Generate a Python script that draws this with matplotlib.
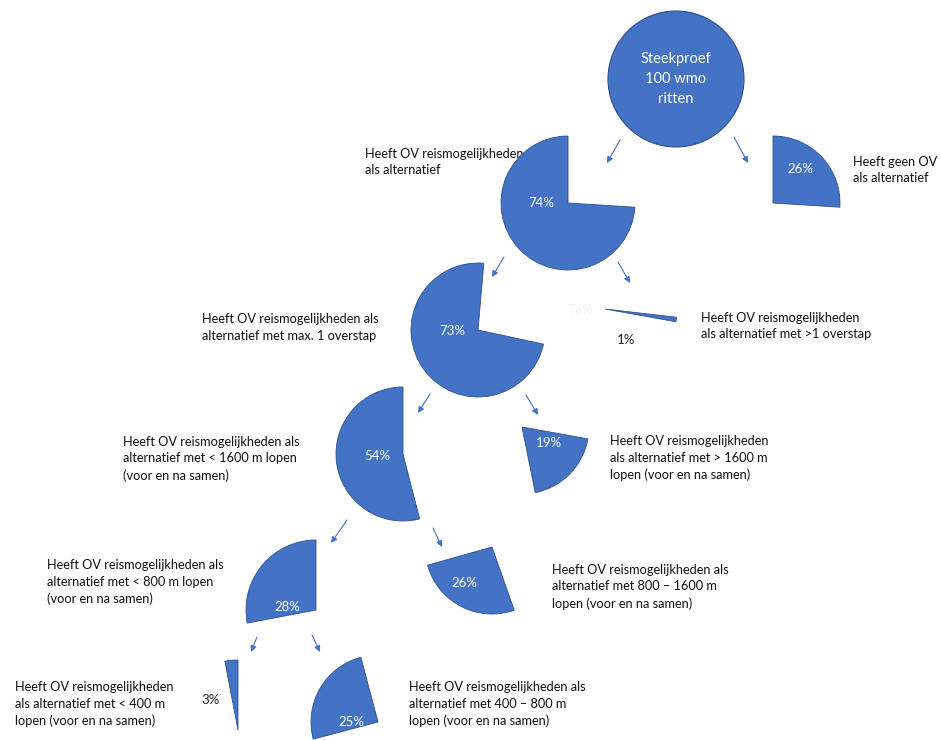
import matplotlib.pyplot as plt
from matplotlib.patches import Wedge, Circle

plt.rcParams['font.family'] = ['Lato', 'DejaVu Sans']

# data: each level splits the parent share into a left and a right branch
parent_pct = [100, 74, 73, 54, 28]
left_pct = [74, 73, 54, 28, 3]
right_pct = [26, 1, 19, 26, 25]
root_text = "Steekproef\n100 wmo\nritten"
left_text = [
    "Heeft OV reismogelijkheden\nals alternatief",
    "Heeft OV reismogelijkheden als\nalternatief met max. 1 overstap",
    "Heeft OV reismogelijkheden als\nalternatief met < 1600 m lopen\n(voor en na samen)",
    "Heeft OV reismogelijkheden als\nalternatief met < 800 m lopen\n(voor en na samen)",
    "Heeft OV reismogelijkheden\nals alternatief met < 400 m\nlopen (voor en na samen)",
]
right_text = [
    "Heeft geen OV reismogelijkheden\nals alternatief",
    "Heeft OV reismogelijkheden\nals alternatief met >1 overstap",
    "Heeft OV reismogelijkheden\nals alternatief met > 1600 m\nlopen (voor en na samen)",
    "Heeft OV reismogelijkheden als\nalternatief met 800 \u2013 1600 m\nlopen (voor en na samen)",
    "Heeft OV reismogelijkheden als\nalternatief met 400 \u2013 800 m\nlopen (voor en na samen)",
]

# layout (pixels, y downwards)
root_xy = (676, 79)
left_xy = [(568, 203), (478, 330), (403, 454), (316, 610), (238, 730)]
right_xy = [(773, 203), (605, 309), (522, 427), (492, 547), (378, 722)]
left_r = [67, 67, 67, 70, 70]
right_r = [67, 72, 67, 67, 67]
left_tilt = [0, 5, 0, 0, 0]
right_tilt = [0, 3, 3, -5, -4]
left_lab = [(541, 203), (452, 331), (377, 456), (287, 607), (211, 700)]
right_lab = [(800, 169), (626, 340), (549, 443), (464, 583), (351, 722)]
left_txt_xy = [(365, 155), (202, 320), (123, 443), (47, 566), (15, 688)]
right_txt_xy = [(853, 163), (701, 319), (610, 442), (552, 571), (409, 688)]
arrows_left = [((620, 140), (607, 163)), ((504, 257), (492, 277)), ((430, 394), (418, 413)),
               ((347, 520), (331, 543)), ((257, 637), (251, 652))]
arrows_right = [((734, 137), (748, 163)), ((618, 262), (630, 283)), ((526, 395), (538, 415)),
                ((433, 528), (442, 547)), ((312, 635), (320, 652))]

blue = '#4472C4'
edge = '#2F528F'

fig = plt.figure(figsize=(9.4, 7.4), dpi=100)
ax = fig.add_axes([0, 0, 1, 1])
ax.set_xlim(0, 940)
ax.set_ylim(740, 0)
ax.axis('off')

ax.add_patch(Circle(root_xy, 68, facecolor=blue, edgecolor=edge, lw=0.8, zorder=3))
ax.text(root_xy[0], root_xy[1], root_text, color='white', fontsize=10.5,
        ha='center', va='center', linespacing=1.55, zorder=4)


def clock_to_theta(a):
    # clockwise degrees from 12 o'clock -> matplotlib angle on inverted y axis
    return a - 90


for i in range(len(parent_pct)):
    # left branch ends at 12 o'clock, right branch sits just before it
    a_left0 = (100 - left_pct[i]) * 3.6
    a_right0 = (100 - parent_pct[i]) * 3.6
    lt, rt = left_tilt[i], right_tilt[i]
    ax.add_patch(Wedge(left_xy[i], left_r[i], clock_to_theta(a_left0 + lt), clock_to_theta(360 + lt),
                       facecolor=blue, edgecolor=edge, lw=0.6, zorder=3))
    ax.add_patch(Wedge(right_xy[i], right_r[i], clock_to_theta(a_right0 + rt), clock_to_theta(a_left0 + rt),
                       facecolor=blue, edgecolor=edge, lw=0.6, zorder=3))

    lcol = 'white' if left_pct[i] > 5 else '#222222'
    rcol = 'white' if right_pct[i] > 5 else '#222222'
    ax.text(*left_lab[i], f"{left_pct[i]}%", color=lcol, fontsize=9.5, ha='center', va='center', zorder=4)
    ax.text(*right_lab[i], f"{right_pct[i]}%", color=rcol, fontsize=9.5, ha='center', va='center', zorder=4)

    ax.text(left_txt_xy[i][0], left_txt_xy[i][1] - 7, left_text[i], fontsize=9.2, color='#111111',
            ha='left', va='top', linespacing=1.45, zorder=2)
    ax.text(right_txt_xy[i][0], right_txt_xy[i][1] - 7, right_text[i], fontsize=9.2, color='#111111',
            ha='left', va='top', linespacing=1.45, zorder=2)

    for (p0, p1) in (arrows_left[i], arrows_right[i]):
        ax.annotate('', xy=p1, xytext=p0,
                    arrowprops=dict(arrowstyle='-|>', color=blue, lw=0.8, mutation_scale=9,
                                    shrinkA=0, shrinkB=0), zorder=2)

# faint leftover label of the hidden slice
ax.text(581, 310, "76%", color='#f3f3f3', fontsize=9, ha='center', va='center', zorder=1)

fig.savefig('out.png', dpi=100)
